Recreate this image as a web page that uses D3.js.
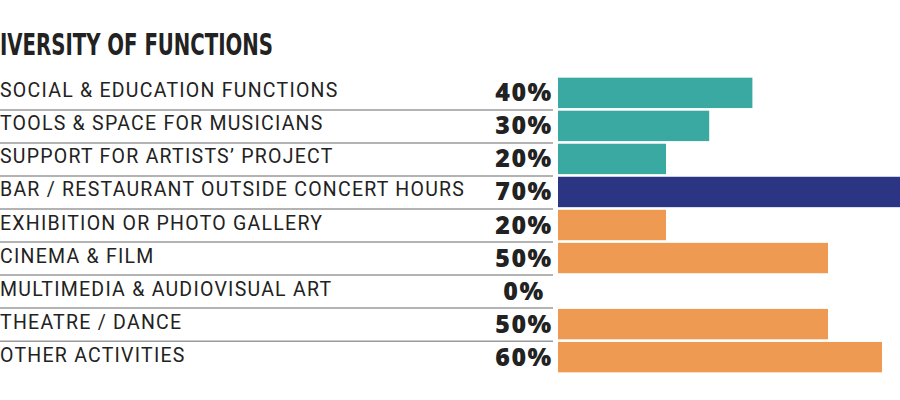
<!DOCTYPE html>
<html lang="en">
<head>
  <meta charset="UTF-8">
  <title>Diversity of functions</title>
  <style>
    body { margin: 0; background: #fff; }
    svg { display: block; }
    .title { font-family: "Liberation Sans Narrow", "DejaVu Sans Condensed", sans-serif; font-weight: bold; fill: #222; }
    .label { font-family: Roboto, "Noto Sans", sans-serif; font-weight: 400; fill: #222; letter-spacing: 1.25px; }
    .pct { font-family: "Open Sans", Lato, sans-serif; font-weight: 800; fill: #222; letter-spacing: 1.5px; }
    .sep { stroke: #9a9a9a; stroke-width: 1.5; }
  </style>
</head>
<body>
  <svg width="900" height="400"></svg>

  <script src="https://d3js.org/d3.v7.min.js"></script>
  <script>
    // データ
    const categories = [
      "SOCIAL & EDUCATION FUNCTIONS",
      "TOOLS & SPACE FOR MUSICIANS",
      "SUPPORT FOR ARTISTS’ PROJECT",
      "BAR / RESTAURANT OUTSIDE CONCERT HOURS",
      "EXHIBITION OR PHOTO GALLERY",
      "CINEMA & FILM",
      "MULTIMEDIA & AUDIOVISUAL ART",
      "THEATRE / DANCE",
      "OTHER ACTIVITIES"
    ];
    const values = [36, 28, 20, 70, 20, 50, 0, 50, 60];
    const pctLabels = ["40%", "30%", "20%", "70%", "20%", "50%", "0%", "50%", "60%"];
    const groups = ["a", "a", "a", "b", "c", "c", "c", "c", "c"];

    const svg = d3.select("svg");

    const color = d3.scaleOrdinal()
      .domain(["a", "b", "c"])
      .range(["#3aa9a1", "#2b3583", "#ef9a52"]);

    const y = d3.scaleBand()
      .domain(categories)
      .range([77, 373])
      .paddingInner(0.08)
      .paddingOuter(0.02);

    const x = d3.scaleLinear()
      .domain([0, 70])
      .range([558, 936]);

    // タイトル
    svg.append("text")
      .attr("class", "title")
      .attr("x", 0)
      .attr("y", 55)
      .attr("font-size", 30)
      .attr("textLength", 273)
      .attr("lengthAdjust", "spacingAndGlyphs")
      .text("IVERSITY OF FUNCTIONS");

    // 区切り線
    svg.append("g")
      .selectAll("line")
      .data(categories.slice(0, -1))
      .join("line")
        .attr("class", "sep")
        .attr("x1", 0)
        .attr("x2", 553)
        .attr("y1", d => y(d) + y.step() - y.step() * y.paddingInner() / 2 + 0.5)
        .attr("y2", d => y(d) + y.step() - y.step() * y.paddingInner() / 2 + 0.5);

    // 棒
    svg.append("g")
      .selectAll("rect")
      .data(categories)
      .join("rect")
        .attr("x", x(0))
        .attr("y", d => y(d))
        .attr("width", (d, i) => x(values[i]) - x(0))
        .attr("height", y.bandwidth())
        .attr("fill", (d, i) => color(groups[i]));

    // 項目名
    svg.append("g")
      .selectAll("text")
      .data(categories)
      .join("text")
        .attr("class", "label")
        .attr("x", 0)
        .attr("y", d => y(d) + y.bandwidth() / 2 + 4.5)
        .attr("font-size", 19.5)
        .text(d => d);

    // パーセント
    svg.append("g")
      .selectAll("text")
      .data(categories)
      .join("text")
        .attr("class", "pct")
        .attr("x", 524)
        .attr("y", d => y(d) + y.bandwidth() / 2 + 8.5)
        .attr("text-anchor", "middle")
        .attr("font-size", 25)
        .text((d, i) => pctLabels[i]);
  </script>
</body>
</html>
